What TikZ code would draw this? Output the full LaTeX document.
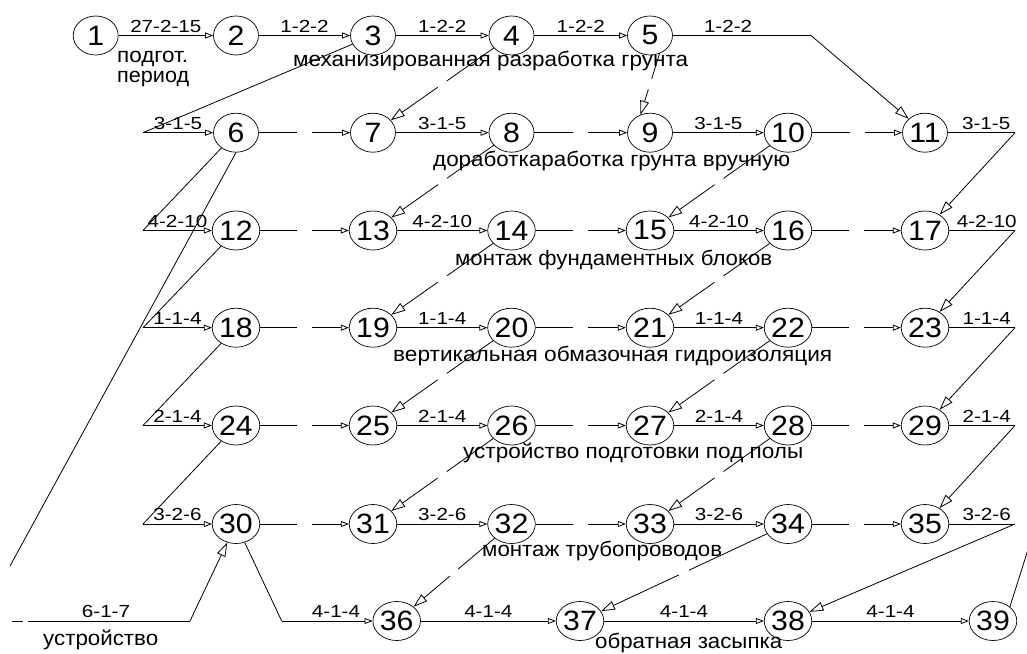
\documentclass[tikz,border=0pt]{standalone}
\usepackage{fontspec}
\setmainfont{Liberation Sans}
\newfontfamily\numfont[FakeStretch=1.08]{Liberation Sans}
\newfontfamily\lblfont[FakeStretch=1.18]{Liberation Sans}
\usepackage{graphicx}
\usetikzlibrary{arrows.meta,calc,shapes.geometric}
\newcommand\fw[2]{\resizebox{#1pt}{\height}{#2}}
\newcommand\gapln[4]{%
  \path (#1) -- (#2) coordinate[pos=0] (gs) coordinate[pos=1] (ge) coordinate[pos=0.5] (gm);
  \draw[ln] (gs) -- ($(gm)!#4pt!(gs)$);
  \draw[#3] ($(gm)!#4pt!(ge)$) -- (ge);
}
\tikzset{
  ev/.style={ellipse, draw, line width=0.7pt, minimum width=45pt, minimum height=39pt, inner sep=0pt, font={\numfont\fontsize{28}{28}\selectfont}},
  ln/.style={line width=0.8pt},
  sa/.style={ln, -{Triangle[open, length=8pt, width=6pt, line width=0.8pt]}},
  ba/.style={ln, -{Triangle[open, length=14pt, width=9pt, line width=0.8pt]}},
  lbl/.style={anchor=base, inner sep=0pt, font={\lblfont\fontsize{17.5}{17.5}\selectfont}},
  txt/.style={anchor=base west, inner sep=0pt, font={\fontsize{21}{21}\selectfont}},
}
\begin{document}
\begin{tikzpicture}[x=1pt,y=-1pt]
\useasboundingbox[fill=white] (0,0) rectangle (1027,653);

% row 1
\node[ev] (n1) at (95.7,35.5) {1};
\node[ev] (n2) at (236,35.5) {2};
\node[ev] (n3) at (373,35.5) {3};
\node[ev] (n4) at (511.5,35.5) {4};
\node[ev] (n5) at (650,35.5) {5};
\coordinate (R1) at (811,35.5);

% rows 2-6
\foreach \r/\y in {2/132.7, 3/230.5, 4/327.7, 5/425.5, 6/524}{
  \foreach \cc/\x in {1/236,2/373,3/511.5,4/650,5/788,6/925}{
    \pgfmathtruncatemacro\nn{6*\r-7+\cc}
    \node[ev] (n\nn) at (\x,\y) {\nn};
  }
  \coordinate (L\r) at (143,\y);
  \coordinate (R\r) at (1015,\y);
}

% row 7
\node[ev] (n36) at (396.7,621) {36};
\node[ev] (n37) at (580,621) {37};
\node[ev] (n38) at (788,621) {38};
\node[ev] (n39) at (993,621) {39};

% row 1 edges
\draw[sa] (n1) -- (n2) node[lbl, midway, yshift=3.5pt] {27-2-15};
\draw[sa] (n2) -- (n3) node[lbl, midway, yshift=3.5pt] {1-2-2};
\draw[sa] (n3) -- (n4) node[lbl, midway, yshift=3.5pt] {1-2-2};
\draw[sa] (n4) -- (n5) node[lbl, midway, yshift=3.5pt] {1-2-2};
\draw[ln] (n5) -- (R1) node[lbl, pos=0.4, yshift=3.5pt] {1-2-2};
\draw[ba] (R1) -- (n11);

% rows 2-6 edges
\foreach \r/\lab in {2/3-1-5, 3/4-2-10, 4/1-1-4, 5/2-1-4, 6/3-2-6}{
  \pgfmathtruncatemacro\ka{6*\r-6}
  \pgfmathtruncatemacro\kb{\ka+1}
  \pgfmathtruncatemacro\kc{\ka+2}
  \pgfmathtruncatemacro\kd{\ka+3}
  \pgfmathtruncatemacro\ke{\ka+4}
  \pgfmathtruncatemacro\kf{\ka+5}
  \draw[sa] (L\r) -- (n\ka) node[lbl, midway, yshift=3.5pt] {\lab};
  \gapln{n\ka}{n\kb}{sa}{7.5}
  \draw[sa] (n\kb) -- (n\kc) node[lbl, midway, yshift=3.5pt] {\lab};
  \gapln{n\kc}{n\kd}{sa}{7.5}
  \draw[sa] (n\kd) -- (n\ke) node[lbl, midway, yshift=3.5pt] {\lab};
  \gapln{n\ke}{n\kf}{sa}{7.5}
  \draw[ln] (n\kf) -- (R\r) node[lbl, pos=0.57, yshift=3.5pt] {\lab};
}

% left diagonals
\draw[ln] (n3) -- (L2);
\draw[ln] (n6) -- (L3);
\draw[ln] (n12) -- (L4);
\draw[ln] (n18) -- (L5);
\draw[ln] (n24) -- (L6);

% right diagonals
\draw[ba] (R2) -- (n17);
\draw[ba] (R3) -- (n23);
\draw[ba] (R4) -- (n29);
\draw[ba] (R5) -- (n35);
\draw[ba] (R6) -- (n38);

% dashed dependencies
\gapln{n4}{n7}{ba}{5.5}
\gapln{n5.-62}{n9.118}{ba}{5.5}
\gapln{n8}{n13}{ba}{5.5}
\gapln{n10}{n15}{ba}{5.5}
\gapln{n14}{n19}{ba}{5.5}
\gapln{n16}{n21}{ba}{5.5}
\gapln{n20}{n25}{ba}{5.5}
\gapln{n22}{n27}{ba}{5.5}
\gapln{n26}{n31}{ba}{5.5}
\gapln{n28}{n33}{ba}{5.5}
\gapln{n32}{n36}{ba}{5.5}
\gapln{n34}{n37}{ba}{5.5}

% bottom-left path
\coordinate (D1) at (10,566);
\coordinate (D2) at (12,621);
\coordinate (D3) at (23,621);
\coordinate (D4) at (28,621);
\coordinate (D5) at (190,621);
\draw[ln] (n6.south) -- (D1);
\draw[ln] (D2) -- (D3);
\draw[ln] (D4) -- (D5);
\draw[ba] (D5) -- (n30);
\node[lbl] (l617) at (106,617.5) {6-1-7};
\node[txt] (tu) at (43,645) {\fw{115}{устройство}};

\coordinate (D6) at (281.7,621);
\draw[ln] (n30) -- (D6);
\draw[sa] (D6) -- (n36);
\node[lbl] (l414) at (336,617.5) {4-1-4};

% row 7 edges
\draw[sa] (n36) -- (n37) node[lbl, midway, yshift=3.5pt] {4-1-4};
\draw[sa] (n37) -- (n38) node[lbl, midway, yshift=3.5pt] {4-1-4};
\draw[sa] (n38) -- (n39) node[lbl, midway, yshift=3.5pt] {4-1-4};
\coordinate (D7) at (1031,540);
\draw[ln] (n39.40) -- (D7);

% texts
\node[txt] (tp1) at (117,62.3) {\fw{71}{подгот.}};
\node[txt] (tp2) at (117,82.3) {\fw{72}{период}};
\node[txt] (t1) at (293,66.7) {\fw{395}{механизированная разработка грунта}};
\node[txt] (t2) at (433,166) {\fw{357}{доработкаработка грунта вручную}};
\node[txt] (t3) at (455,265) {\fw{317}{монтаж фундаментных блоков}};
\node[txt] (t4) at (393,361.7) {\fw{439}{вертикальная обмазочная гидроизоляция}};
\node[txt] (t5) at (463,458) {\fw{340}{устройство подготовки под полы}};
\node[txt] (t6) at (482,556.5) {\fw{240}{монтаж трубопроводов}};
\node[txt] (t7) at (595,648.5) {\fw{187}{обратная засыпка}};
\end{tikzpicture}
\end{document}
